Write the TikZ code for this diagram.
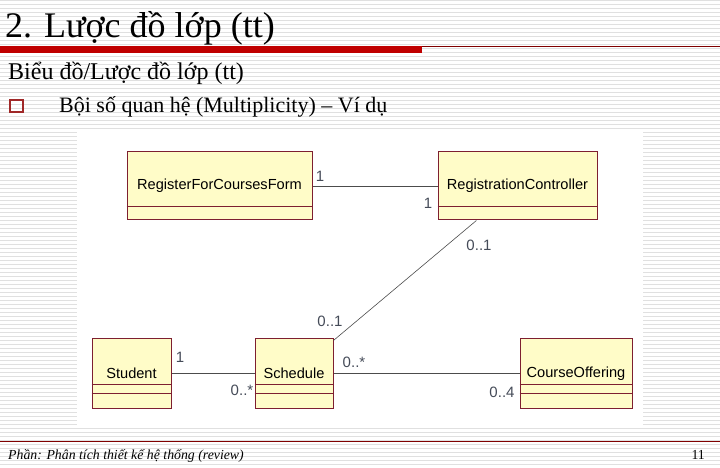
\documentclass[tikz,border=0pt]{standalone}
\usepackage{fontspec}
\setmainfont{Liberation Serif}
\setsansfont{Liberation Sans}
\usepackage{tikz}

\definecolor{classfill}{HTML}{FFFCC8}
\definecolor{classline}{HTML}{7E1F30}
\definecolor{slidered}{HTML}{C00000}
\definecolor{darkmaroon}{HTML}{800000}
\definecolor{bulletred}{HTML}{A02828}
\definecolor{multgray}{HTML}{454B58}
\definecolor{stripegray}{HTML}{E0E0E0}

\begin{document}
\begin{tikzpicture}[x=1bp,y=-1bp]
\tikzset{class/.style = {shape=rectangle,draw=classline,line width=1bp,fill=classfill,inner sep=0pt,font=\sffamily\fontsize{14.6bp}{16bp}\selectfont}}
\tikzset{sep/.style = {draw=classline,line width=0.7bp}}
\tikzset{assoc/.style = {draw=black!70,line width=0.8bp}}
\tikzset{mult/.style = {text=multgray,inner sep=0pt,font=\sffamily\fontsize{15bp}{16bp}\selectfont}}
\tikzset{slidetext/.style = {anchor=base west,inner sep=0pt}}
\useasboundingbox (0,0) rectangle (720,468);
% slide background
\fill[white] (0,0) rectangle (720,468);
\foreach \y in {0.5,4.5,...,468} \draw[stripegray,line width=0.8bp] (0,\y) -- (720,\y);
% title
\node[slidetext,font=\fontsize{36bp}{40bp}\selectfont] (title) at (5,38) {2. Lược đồ lớp (tt)};
\fill[slidered] (0,46) rectangle (422,53);
\draw[darkmaroon,line width=1bp] (422,46.5) -- (720,46.5);
\node[slidetext,font=\fontsize{24bp}{26bp}\selectfont] (sub) at (8,80) {Biểu đồ/Lược đồ lớp (tt)};
\draw[bulletred,line width=2bp] (10,100) rectangle (23,112);
\node[slidetext,font=\fontsize{22bp}{26bp}\selectfont] (item) at (59,113) {Bội số quan hệ (Multiplicity) – Ví dụ};
% picture
\fill[white] (77,130) rectangle (643,427);
% classes
\node[class,minimum width=185bp,minimum height=68bp] (form) at (219.5,186) {RegisterForCoursesForm};
\node[class,minimum width=159bp,minimum height=68bp] (ctrl) at (517.5,186) {RegistrationController};
\node[class,minimum width=79bp,minimum height=69bp] (student) at (131.5,373.5) {Student};
\node[class,minimum width=78bp,minimum height=69bp] (schedule) at (294,373.5) {Schedule};
\node[class,minimum width=112bp,minimum height=69bp] (offering) at (576,373.5) {CourseOffering};
\foreach \c in {form,ctrl}
  \draw[sep] ([yshift=14bp]\c.south west) -- ([yshift=14bp]\c.south east);
\foreach \c in {student,schedule,offering} {
  \draw[sep] ([yshift=24bp]\c.south west) -- ([yshift=24bp]\c.south east);
  \draw[sep] ([yshift=15bp]\c.south west) -- ([yshift=15bp]\c.south east);
}
%associations
\draw[assoc] (form) -- (ctrl);
\draw[assoc] (student) -- (schedule);
\draw[assoc] (schedule) -- (offering);
\draw[assoc,line width=0.6bp] (schedule) -- (ctrl);
% multiplicities
\node[mult] (m1) at (320,176) {1};
\node[mult] (m2) at (428,203) {1};
\node[mult] (m3) at (479,245) {0..1};
\node[mult] (m4) at (330,321) {0..1};
\node[mult] (m5) at (180,357) {1};
\node[mult] (m6) at (242,390) {0..*};
\node[mult] (m7) at (354,362) {0..*};
\node[mult] (m8) at (502,392) {0..4};
% footer
\draw[darkmaroon,line width=1bp] (0,441.5) -- (720,441.5);
\node[slidetext,font=\itshape\fontsize{13.8bp}{15bp}\selectfont] (foot) at (8,459) {Phần: Phân tích thiết kế hệ thống (review)};
\node[anchor=base east,inner sep=0pt,font=\fontsize{13.8bp}{15bp}\selectfont] (page) at (705,459) {11};
\end{tikzpicture}
\end{document}
